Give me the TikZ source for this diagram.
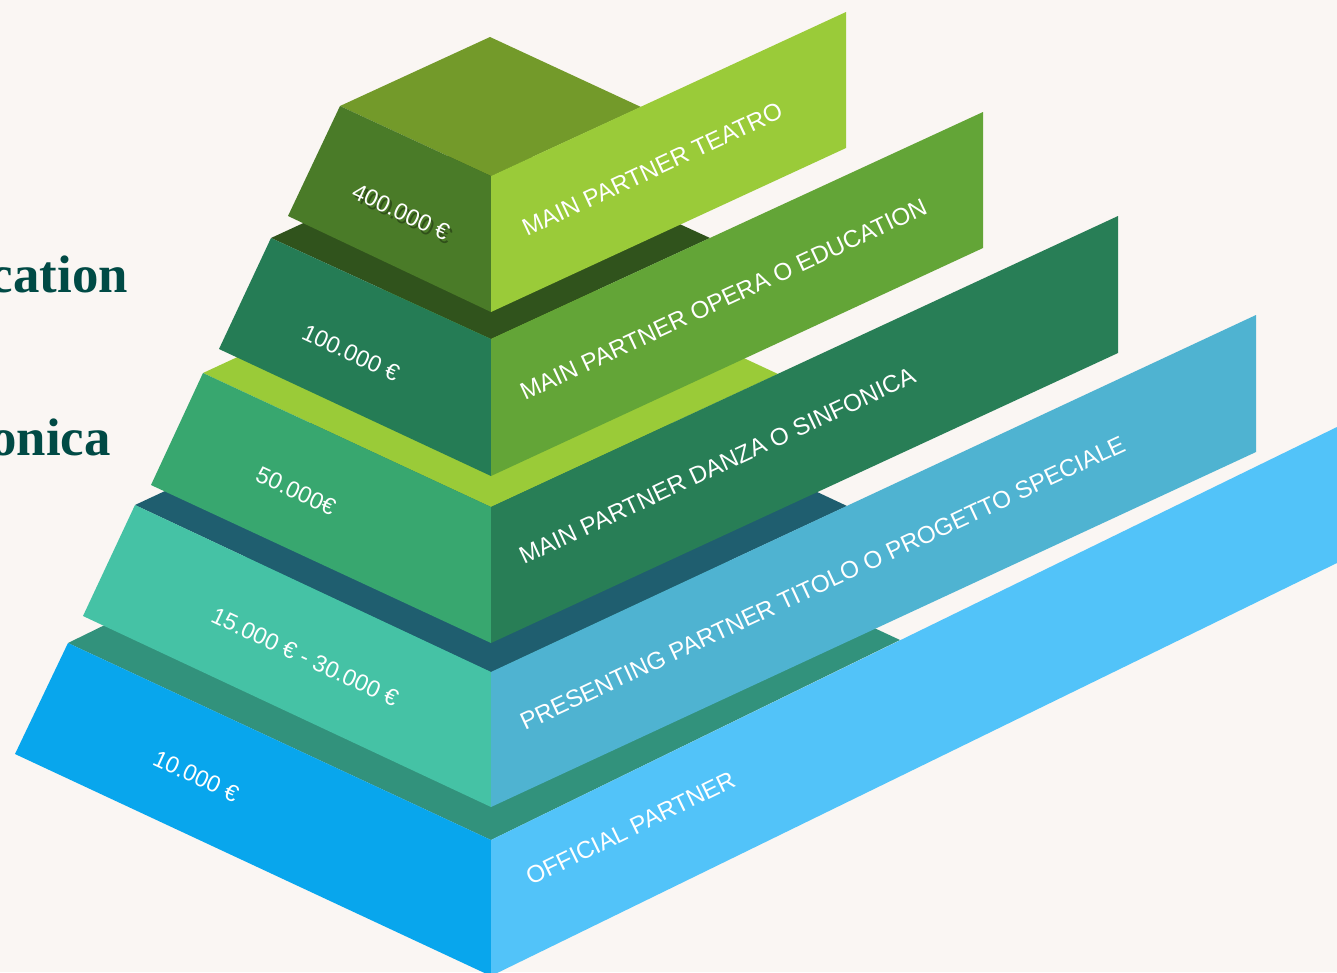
\documentclass[tikz,border=0pt]{standalone}
\usepackage{fontspec}
\setmainfont{Liberation Sans}
\newfontfamily\headserif{Liberation Serif}
\definecolor{bgc}{HTML}{FAF6F3}
\definecolor{headc}{HTML}{004A45}
\definecolor{tAtop}{HTML}{32927C}
\definecolor{tAleft}{HTML}{08A6ED}
\definecolor{tAband}{HTML}{52C3F9}
\definecolor{tBtop}{HTML}{1F5E6F}
\definecolor{tBleft}{HTML}{45C2A5}
\definecolor{tBband}{HTML}{4FB3D1}
\definecolor{tCtop}{HTML}{9ACB38}
\definecolor{tCleft}{HTML}{38A76F}
\definecolor{tCband}{HTML}{287E56}
\definecolor{tDtop}{HTML}{30531C}
\definecolor{tDleft}{HTML}{257C55}
\definecolor{tDband}{HTML}{63A537}
\definecolor{tEtop}{HTML}{739A2A}
\definecolor{tEleft}{HTML}{4A7B28}
\definecolor{tEband}{HTML}{9ACB39}
\begin{document}
\begin{tikzpicture}[x=1bp,y=-1bp,
  lbl/.style={text=white, font=\fontsize{23.5}{26}\selectfont, inner sep=0pt},
  blbl/.style={text=white, font=\fontsize{24.3}{27}\selectfont, inner sep=0pt, anchor=base west},
  shadowlbl/.style={text=black, font=\fontsize{23.5}{26}\selectfont, inner sep=0pt},
  head/.style={text=headc, font=\headserif\bfseries\fontsize{53}{56}\selectfont, inner sep=0pt, anchor=base east}]
\clip (0,0) rectangle (1337,972);
\fill[bgc] (0,0) rectangle (1337,972);

% left heading fragments
\node[head] (h1) at (128,292) {cation};
\node[head] (h2) at (111,455) {onica};

% tier 1 (bottom)
\fill[tAtop] (68,643) -- (491,840) -- (900,640) -- (477,443) -- cycle;
\fill[tAleft] (68,643) -- (491,840) -- (491,976) -- (15,754) -- cycle;
\fill[tAband] (491,840) -- (1380,406) -- (1380,542) -- (491,976) -- cycle;

% tier 2
\fill[tBtop] (135,505) -- (491,672) -- (847,506) -- (491,339) -- cycle;
\fill[tBleft] (135,505) -- (491,672) -- (491,807) -- (83,616) -- cycle;
\fill[tBband] (491,672) -- (1256,315) -- (1256,452) -- (491,807) -- cycle;

% tier 3
\fill[tCtop] (203,373) -- (491,507) -- (778,374) -- (490,240) -- cycle;
\fill[tCleft] (203,373) -- (491,507) -- (491,643) -- (151,485) -- cycle;
\fill[tCband] (491,507) -- (1118,216) -- (1118,353) -- (491,643) -- cycle;

% tier 4
\fill[tDtop] (271,238) -- (491,339) -- (710,238) -- (490,137) -- cycle;
\fill[tDleft] (271,238) -- (491,339) -- (491,476) -- (219,349) -- cycle;
\fill[tDband] (491,339) -- (983,112) -- (983,248) -- (491,476) -- cycle;

% tier 5 (top)
\fill[tEtop] (340,106) -- (491,176) -- (641,107) -- (490,37) -- cycle;
\fill[tEleft] (340,106) -- (491,176) -- (491,312) -- (288,216) -- cycle;
\fill[tEband] (491,176) -- (846,12) -- (846,148) -- (491,312) -- cycle;

% price labels
\node[shadowlbl, rotate=-25, opacity=0.35] (e5s) at (403.5,215.5) {400.000 €};
\node[lbl, rotate=-25] (e5) at (401,212) {400.000 €};
\node[lbl, rotate=-25] (e4) at (351,353) {100.000 €};
\node[lbl, rotate=-25] (e3) at (296,491) {50.000€};
\node[lbl, rotate=-25] (e2) at (305,657) {15.000 € - 30.000 €};
\node[lbl, rotate=-25] (e1) at (196,776) {10.000 €};

% partner labels
\node[blbl, rotate=25] (b5) at (527,237) {MAIN PARTNER TEATRO};
\node[blbl, rotate=25] (b4) at (525,401) {MAIN PARTNER OPERA O EDUCATION};
\node[blbl, rotate=25] (b3) at (524,565) {MAIN PARTNER DANZA O SINFONICA};
\node[blbl, rotate=25] (b2) at (525,731) {PRESENTING PARTNER TITOLO O PROGETTO SPECIALE};
\node[blbl, rotate=26] (b1) at (531,886) {OFFICIAL PARTNER};
\end{tikzpicture}
\end{document}
